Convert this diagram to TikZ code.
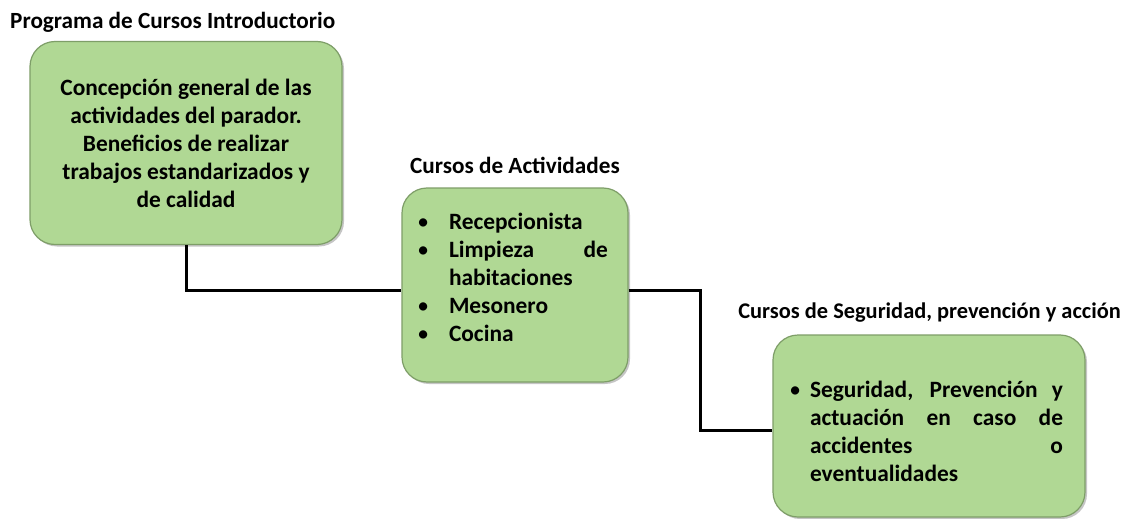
\documentclass[tikz,border=0pt]{standalone}
\usepackage{fontspec}
\setmainfont{Carlito}
\usepackage{enumitem}
\usepackage{tikz}
\usetikzlibrary{positioning,shadows}
\definecolor{boxgreen}{HTML}{B0D894}
\definecolor{boxedge}{HTML}{7E9E68}
\tikzset{
    greenbox/.style={rounded corners=25pt,fill=boxgreen,draw=boxedge,line width=1.2pt,
        drop shadow={opacity=0.45,shadow xshift=2pt,shadow yshift=-2pt},
        font=\fontsize{23.4}{28}\selectfont\bfseries,inner sep=0pt},
    headlabel/.style={font=\fontsize{23.2}{27}\selectfont\bfseries,inner sep=0pt},
    link/.style={line width=3pt,black}
}

\begin{document}
\begin{tikzpicture}[x=1pt,y=-1pt]
\useasboundingbox[fill=white] (0,0) rectangle (1127,519);

% boxes
\node[greenbox,minimum width=312pt,minimum height=203pt,align=center]
    (intro) at (186,143) {Concepción general de las\\actividades del parador.\\Beneficios de realizar\\trabajos estandarizados y\\de calidad};
\node[greenbox,minimum width=226pt,minimum height=194pt]
    (act) at (515,285) {\begin{minipage}[c][143pt][t]{186pt}
    \begin{itemize}[leftmargin=27pt,labelsep=20pt,itemsep=0pt,topsep=0pt,parsep=0pt,partopsep=0pt]
        \item Recepcionista
        \item Limpieza de\linebreak habitaciones
        \item Mesonero
        \item Cocina
    \end{itemize}\end{minipage}};
\node[greenbox,minimum width=312pt,minimum height=182pt,text width=268pt,align=justify]
    (seg) at (929,426) {\begin{itemize}[leftmargin=15pt,labelsep=9pt,itemsep=0pt,topsep=0pt,parsep=0pt,partopsep=0pt]
        \item Seguridad, Prevención y\linebreak actuación en caso de\linebreak accidentes o\linebreak eventualidades
    \end{itemize}};

% labels
\node[headlabel,anchor=west] (introlbl) at (10,22) {Programa de Cursos Introductorio};
\node[headlabel,above=14pt of act] (actlbl) {Cursos de Actividades};
\node[headlabel,font=\fontsize{22.4}{27}\selectfont\bfseries,anchor=east] (seglbl) at (1121,313) {Cursos de Seguridad, prevención y acción};

% connectors
\coordinate (j1) at ([xshift=72pt,yshift=-5pt]act.east);
\draw[link] (intro.south) |- ([yshift=-5pt]act.west);
\draw[link] ([yshift=-5pt]act.east) -- (j1) |- ([yshift=-4pt]seg.west);

\end{tikzpicture}
\end{document}
